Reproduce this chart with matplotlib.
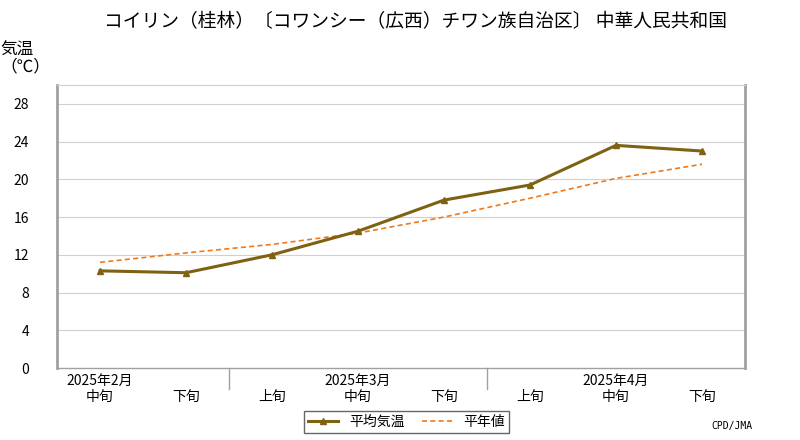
import matplotlib
matplotlib.use("Agg")
import matplotlib.pyplot as plt

plt.rcParams["font.family"] = ["Noto Sans CJK JP", "DejaVu Sans"]

dekads = ["中旬", "下旬", "上旬", "中旬", "下旬", "上旬", "中旬", "下旬"]
months = ["2025年2月", "2025年3月", "2025年4月"]
month_center_idx = [0, 3, 6]
month_bounds = [1.5, 4.5]
mean_temp = [10.3, 10.1, 12.0, 14.5, 17.8, 19.4, 23.6, 23.0]
normal_temp = [11.2, 12.2, 13.1, 14.3, 16.0, 18.0, 20.1, 21.6]
yticks = [0, 4, 8, 12, 16, 20, 24, 28]

fig = plt.figure(figsize=(8, 4.4), dpi=100)
ax = fig.add_axes([57/800, 1-368/440, 688/800, 283/440])
x = list(range(len(dekads)))
ax.plot(x, mean_temp, color="#7f6113", lw=2.2, marker="^", ms=5, label="平均気温", zorder=3)
ax.plot(x, normal_temp, color="#f07818", lw=1.2, ls=(0, (3, 2)), label="平年値", zorder=2)
ax.set_xlim(-0.5, 7.5)
ax.set_ylim(0, 30)
ax.set_yticks(yticks)
ax.set_yticklabels([str(v) for v in yticks], fontsize=10)
for v in yticks[1:]:
    ax.axhline(v, color="#d0d0d0", lw=0.8, zorder=1)
ax.spines["top"].set_color("#d0d0d0")
for s in ["left", "right"]:
    ax.spines[s].set_color("#a0a0a0")
    ax.spines[s].set_linewidth(2)
ax.spines["bottom"].set_color("#a0a0a0")
ax.spines["bottom"].set_linewidth(1)
ax.tick_params(axis="y", length=0, pad=20)
ax.set_xticks(x)
ax.set_xticklabels(dekads, fontsize=10)
ax.tick_params(axis="x", length=0, pad=16)
for b in month_bounds:
    ax.plot([b, b], [0, -2.2], color="#a0a0a0", lw=1, clip_on=False)
for m, i in zip(months, month_center_idx):
    ax.text(i, -0.6, m, ha="center", va="top", fontsize=10)
fig.text(0.0, 0.905, "気温\n（℃）", fontsize=12, ha="left", va="top", linespacing=0.95)
fig.text(0.52, 0.975, "コイリン（桂林）〔コワンシー（広西）チワン族自治区〕 中華人民共和国",
         ha="center", va="top", fontsize=13.5)
fig.legend(loc="lower center", bbox_to_anchor=(0.508, 0.0), ncol=2, fontsize=10,
           frameon=True, fancybox=False, edgecolor="#404040", handlelength=2.2,
           borderpad=0.3, columnspacing=1.2)
fig.text(0.94, 0.02, "CPD/JMA", fontsize=7, ha="right", va="bottom", family="DejaVu Sans Mono")
fig.savefig("out.png", dpi=100)
